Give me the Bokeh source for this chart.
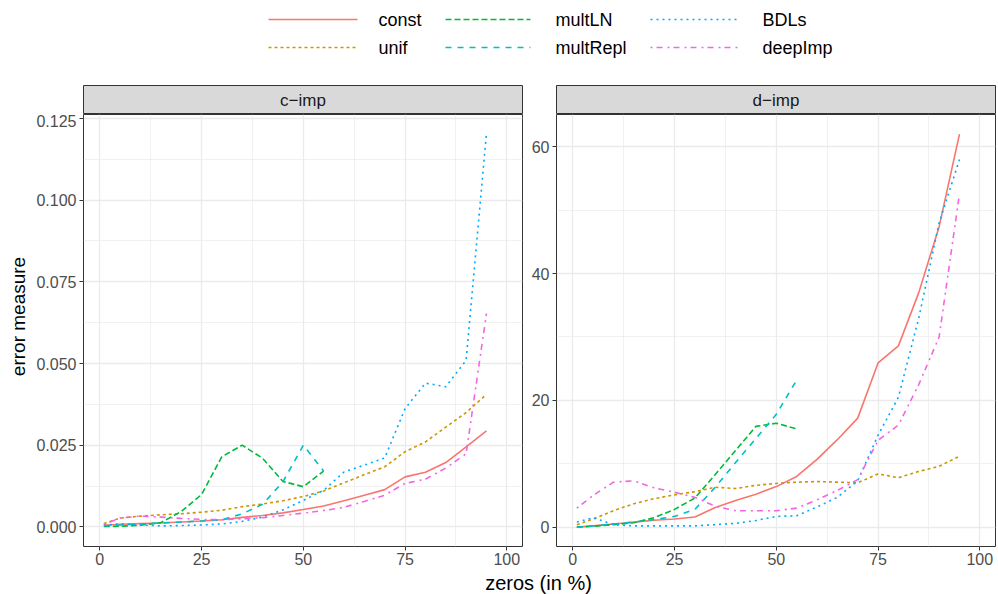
import math
from bokeh.plotting import figure
from bokeh.layouts import column, row
from bokeh.models import Range1d, FixedTicker, PrintfTickFormatter
from bokeh.embed import file_html
from bokeh.resources import INLINE
from bokeh.core.properties import value

# ---------------- data ----------------
zeros = [1, 5, 10, 15, 20, 25, 30, 35, 40, 45, 50, 55, 60, 65, 70, 75, 80, 85, 90, 95]
zeros_mult = [1, 5, 10, 15, 20, 25, 30, 35, 40, 45, 50, 55]

methods = ["const", "unif", "multLN", "multRepl", "BDLs", "deepImp"]
panels = ["c\u2212imp", "d\u2212imp"]

# c-imp
const_c = [0.0005, 0.0008, 0.0010, 0.0012, 0.0015, 0.0018, 0.0022, 0.0029, 0.0035, 0.0043,
           0.0053, 0.0064, 0.0080, 0.0097, 0.0114, 0.0153, 0.0167, 0.0197, 0.0245, 0.0294]
unif_c = [0.0010, 0.0027, 0.0033, 0.0037, 0.0040, 0.0045, 0.0051, 0.0062, 0.0070, 0.0080,
          0.0093, 0.0110, 0.0135, 0.0160, 0.0184, 0.0230, 0.0260, 0.0305, 0.0350, 0.0405]
multLN_c = [0.0001, 0.0002, 0.0005, 0.0013, 0.0047, 0.0099, 0.0215, 0.0250, 0.0210, 0.0139, 0.0123, 0.0171]
multRepl_c = [0.0003, 0.0006, 0.0009, 0.0012, 0.0015, 0.0018, 0.0022, 0.0040, 0.0069, 0.0138, 0.0250, 0.0171]
BDLs_c = [0.0005, 0.0009, 0.0006, 0.0003, 0.0004, 0.0006, 0.0009, 0.0017, 0.0030, 0.0052,
          0.0081, 0.0112, 0.0168, 0.0189, 0.0211, 0.0362, 0.0440, 0.0429, 0.0510, 0.1205]
deepImp_c = [0.0008, 0.0027, 0.0033, 0.0030, 0.0026, 0.0023, 0.0022, 0.0025, 0.0028, 0.0035,
             0.0042, 0.0050, 0.0060, 0.0078, 0.0097, 0.0133, 0.0146, 0.0180, 0.0224, 0.0653]

# d-imp
const_d = [0.0, 0.2, 0.5, 0.8, 1.1, 1.3, 1.6, 3.1, 4.2, 5.2, 6.4, 8.0, 10.7, 13.8, 17.2,
           25.9, 28.6, 37.0, 47.4, 62.0]
unif_d = [0.4, 1.3, 2.6, 3.7, 4.5, 5.1, 5.6, 6.3, 6.1, 6.6, 6.9, 7.1, 7.2, 7.1, 7.0,
          8.4, 7.8, 8.8, 9.6, 11.2]
multLN_d = [0.0, 0.15, 0.4, 0.7, 1.5, 2.8, 4.6, 8.3, 12.1, 15.9, 16.4, 15.5]
multRepl_d = [0.0, 0.2, 0.5, 0.8, 1.2, 1.7, 2.8, 6.3, 10.2, 14.0, 17.8, 23.2]
BDLs_d = [0.8, 1.5, 0.4, 0.2, 0.2, 0.2, 0.2, 0.4, 0.6, 1.05, 1.7, 1.8, 3.2, 4.7, 7.3,
          14.5, 20.5, 33.0, 48.0, 58.0]
deepImp_d = [3.0, 5.0, 7.1, 7.3, 6.2, 5.5, 4.7, 3.3, 2.6, 2.6, 2.6, 3.0, 4.3, 5.8, 7.5,
             13.7, 16.1, 22.5, 30.0, 52.6]

x_ticks = [0, 25, 50, 75, 100]
x_minor = [12.5, 37.5, 62.5, 87.5]
yc_ticks = [0.0, 0.025, 0.05, 0.075, 0.1, 0.125]
yc_minor = [0.0125, 0.0375, 0.0625, 0.0875, 0.1125]
yd_ticks = [0, 20, 40, 60]
yd_minor = [10, 30, 50]

x_title = "zeros (in %)"
y_title = "error measure"

# ---------------- styles ----------------
colors = {"const": "#F8766D", "unif": "#CD9600", "multLN": "#00BA38",
          "multRepl": "#00BFC4", "BDLs": "#00A9FF", "deepImp": "#F564E3"}
dashes = {"const": "solid", "unif": "3 3", "multLN": "6 3", "multRepl": "6 6",
          "BDLs": "2 4", "deepImp": "2 4 6 5"}
LW = 1.6
FONT = "Liberation Sans"
BORDER = "#333333"

series_c = {"const": (zeros, const_c), "unif": (zeros, unif_c), "multLN": (zeros_mult, multLN_c),
            "multRepl": (zeros_mult, multRepl_c), "BDLs": (zeros, BDLs_c), "deepImp": (zeros, deepImp_c)}
series_d = {"const": (zeros, const_d), "unif": (zeros, unif_d), "multLN": (zeros_mult, multLN_d),
            "multRepl": (zeros_mult, multRepl_d), "BDLs": (zeros, BDLs_d), "deepImp": (zeros, deepImp_d)}

TOTAL_W = 998
YT_W = 30
LEFT_W, RIGHT_W = 493, 475
LEFT_MB, RIGHT_MB = 53, 33
LEG_H, STRIP_H, PANEL_H, XT_H = 84, 30, 456, 24


def blank(width, height, xr, yr):
    f = figure(width=width, height=height, x_range=xr, y_range=yr,
               x_axis_type=None, y_axis_type=None, toolbar_location=None, output_backend="svg",
               min_border_left=0, min_border_right=0, min_border_top=0, min_border_bottom=0)
    f.outline_line_color = None
    return f


# ---------------- legend ----------------
leg = blank(TOTAL_W, LEG_H, Range1d(0, TOTAL_W), Range1d(LEG_H, 0))
col_key = [(268, 357, 378), (445, 530, 555), (650, 737, 762)]
row_y = [19, 47]
for i, m in enumerate(methods):
    kx0, kx1, tx = col_key[i // 2]
    ky = row_y[i % 2]
    leg.line(x=[kx0, kx1], y=[ky, ky], line_color=colors[m], line_width=LW, line_dash=dashes[m])
    leg.text(x=[tx], y=[ky], text=[m], text_align="left", text_baseline="middle",
             text_font=value(FONT), text_font_size="18px", text_color="black")

# ---------------- y title ----------------
yt_fig = blank(YT_W, STRIP_H + PANEL_H, Range1d(0, YT_W), Range1d(LEG_H + STRIP_H + PANEL_H, LEG_H))
yt_fig.text(x=[18], y=[316], text=[y_title], angle=math.pi / 2, text_align="center",
            text_baseline="middle", text_font=value(FONT), text_font_size="19px", text_color="black")


# ---------------- panels ----------------
def make_strip(label, width, mbl, mbr):
    s = figure(width=width, height=STRIP_H, x_range=Range1d(0, 1), y_range=Range1d(0, 1),
               x_axis_type=None, y_axis_type=None, toolbar_location=None, output_backend="svg",
               min_border_left=mbl, min_border_right=mbr, min_border_top=1, min_border_bottom=0)
    s.background_fill_color = "#D9D9D9"
    s.outline_line_color = BORDER
    s.outline_line_width = 1
    s.text(x=[0.5], y=[0.5], text=[label], text_align="center", text_baseline="middle",
           text_font=value(FONT), text_font_size="17px", text_color="#1A1A1A")
    return s


def make_panel(width, mbl, mbr, yr, yt, ym, series, fmt=None):
    p = figure(width=width, height=PANEL_H, x_range=Range1d(-4.0, 103.85), y_range=yr,
               toolbar_location=None, output_backend="svg",
               min_border_left=mbl, min_border_right=mbr, min_border_top=0, min_border_bottom=24)
    p.outline_line_color = BORDER
    p.outline_line_width = 1
    p.xaxis.ticker = FixedTicker(ticks=x_ticks, minor_ticks=x_minor)
    p.yaxis.ticker = FixedTicker(ticks=yt, minor_ticks=ym)
    if fmt:
        p.yaxis.formatter = PrintfTickFormatter(format=fmt)
    for ax in (p.xaxis, p.yaxis):
        ax.axis_line_color = None
        ax.major_tick_line_color = BORDER
        ax.major_tick_out = 4
        ax.major_tick_in = 0
        ax.minor_tick_line_color = None
        ax.major_label_text_font = FONT
        ax.major_label_text_font_size = "16px"
        ax.major_label_text_color = "#4D4D4D"
        ax.major_label_standoff = 2
    p.yaxis.major_label_standoff = 3
    for g in (p.xgrid, p.ygrid):
        g.grid_line_color = "#EBEBEB"
        g.grid_line_width = 1.3
        g.minor_grid_line_color = "#EBEBEB"
        g.minor_grid_line_width = 0.7
    for m in methods:
        xs, ys = series[m]
        p.line(x=xs, y=ys, line_color=colors[m], line_width=LW, line_dash=dashes[m])
    return p


strip_l = make_strip(panels[0], LEFT_W, LEFT_MB, 1)
strip_r = make_strip(panels[1], RIGHT_W, RIGHT_MB, 3)
panel_l = make_panel(LEFT_W, LEFT_MB, 1, Range1d(-0.006, 0.1262), yc_ticks, yc_minor, series_c,
                     fmt="%.3f")
panel_r = make_panel(RIGHT_W, RIGHT_MB, 3, Range1d(-3.05, 65.1), yd_ticks, yd_minor, series_d)

# ---------------- x title ----------------
xt = blank(TOTAL_W, XT_H, Range1d(0, TOTAL_W), Range1d(XT_H, 0))
xt.text(x=[538], y=[12], text=[x_title], text_align="center", text_baseline="middle",
        text_font=value(FONT), text_font_size="20px", text_color="black")

layout = column(leg,
                row(yt_fig, column(strip_l, panel_l), column(strip_r, panel_r)),
                xt)

open("out.html", "w").write(file_html(layout, INLINE))
